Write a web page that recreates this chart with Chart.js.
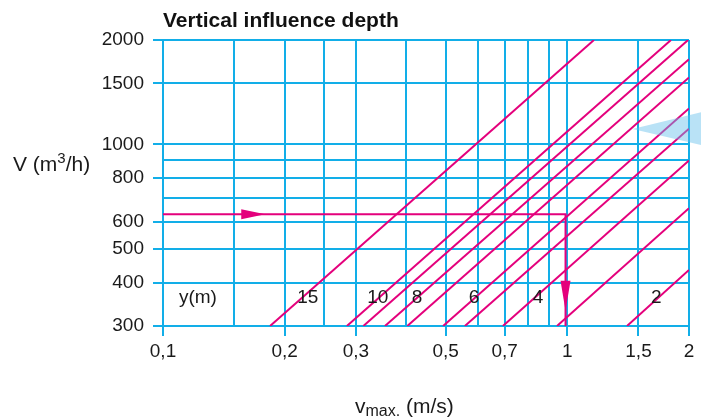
<!DOCTYPE html>
<html>
<head>
<meta charset="utf-8">
<script src="https://cdn.jsdelivr.net/npm/chart.js@4.4.0/dist/chart.umd.min.js"></script>
<style>
  body { margin: 0; background: #fff; }
  #wrap { position: relative; width: 701px; height: 420px; }
  .lbl { position: absolute; font-family: 'Liberation Sans', Arial, sans-serif; font-size: 21px; color: #1a1a1a; white-space: nowrap; line-height: 1; }
  .lbl sup { font-size: 15px; vertical-align: 8px; line-height: 0; }
  .lbl sub { font-size: 16px; vertical-align: -3px; line-height: 0; }
</style>
</head>
<body>
<div id="wrap">
  <canvas id="chart"></canvas>
  <div class="lbl" style="left:13px; top:153px;">V (m<sup>3</sup>/h)</div>
  <div class="lbl" style="left:355px; top:395px;">v<sub>max.</sub> (m/s)</div>
</div>
<script>
// axis ticks
const xTicks = [0.1, 0.15, 0.2, 0.25, 0.3, 0.4, 0.5, 0.6, 0.7, 0.8, 0.9, 1, 1.5, 2];
const xLabelled = [0.1, 0.2, 0.3, 0.5, 0.7, 1, 1.5, 2];
const yTicks = [300, 400, 500, 600, 700, 800, 900, 1000, 1500, 2000];
const yLabelled = [300, 400, 500, 600, 800, 1000, 1500, 2000];

// depth lines y(m), read where they enter and leave the frame
const depths = [15, 10, 9, 8, 7, 6, 5, 4, 3, 2];
const vStart = [0.184, 0.285, 0.313, 0.354, 0.402, 0.493, 0.558, 0.693, 0.943, 1.405]; // at V = 300
const qStart = 300;
const vEnd = [1.164, 1.805, 1.99, 2, 2, 2, 2, 2, 2, 2];
const qEnd = [2000, 2000, 2000, 1760, 1560, 1270, 1110, 900, 655, 435];

// text on the lines
const depthLabels = ['y(m)', '15', '10', '8', '6', '4', '2'];
const depthLabelV = [0.122, 0.228, 0.340, 0.425, 0.588, 0.847, 1.66];
const depthLabelQ = 361;

// worked example: 630 m3/h, y = 6 m -> about 1 m/s
const exampleV = [0.1, 0.99, 0.99];
const exampleQ = [630, 630, 300];
const arrowV = [0.179, 0.99];
const arrowQ = [630, 332];
const arrowDir = ['right', 'down'];

// pale pointer on the right
const wedgeTip = [1.45, 1108];
const wedgeEdgeQ = [1239, 996];

const BLUE = '#12aee8';
const MAGENTA = '#e4007c';
const FONT = "'Liberation Sans', Arial, sans-serif";

Chart.defaults.font.family = FONT;
Chart.defaults.font.size = 19;
Chart.defaults.color = '#1a1a1a';

const datasets = depths.map((d, i) => ({
  label: 'y = ' + d + ' m',
  data: [{ x: vStart[i], y: qStart }, { x: vEnd[i], y: qEnd[i] }],
  borderColor: MAGENTA,
  borderWidth: 2,
  showLine: true,
  pointRadius: 0
}));
datasets.push({
  label: 'example',
  data: exampleV.map((v, i) => ({ x: v, y: exampleQ[i] })),
  borderColor: MAGENTA,
  borderWidth: 2,
  showLine: true,
  pointRadius: 0
});

const overlay = {
  id: 'overlay',
  afterDatasetsDraw(chart) {
    const { ctx, scales: { x, y } } = chart;
    ctx.save();

    // arrowheads
    ctx.fillStyle = MAGENTA;
    arrowV.forEach((v, i) => {
      const px = x.getPixelForValue(v);
      const py = y.getPixelForValue(arrowQ[i]);
      ctx.beginPath();
      if (arrowDir[i] === 'right') {
        ctx.moveTo(px, py);
        ctx.lineTo(px - 24, py - 5);
        ctx.lineTo(px - 24, py + 5);
      } else {
        ctx.moveTo(px, py);
        ctx.lineTo(px - 5, py - 30);
        ctx.lineTo(px + 5, py - 30);
      }
      ctx.closePath();
      ctx.fill();
    });

    // depth labels
    ctx.fillStyle = '#1a1a1a';
    ctx.font = '19px ' + FONT;
    ctx.textAlign = 'center';
    ctx.textBaseline = 'middle';
    depthLabels.forEach((t, i) => {
      ctx.fillText(t, x.getPixelForValue(depthLabelV[i]), y.getPixelForValue(depthLabelQ));
    });

    // pale wedge
    ctx.fillStyle = 'rgba(100, 190, 235, 0.45)';
    ctx.beginPath();
    ctx.moveTo(x.getPixelForValue(wedgeTip[0]), y.getPixelForValue(wedgeTip[1]));
    ctx.lineTo(chart.width, y.getPixelForValue(wedgeEdgeQ[0]));
    ctx.lineTo(chart.width, y.getPixelForValue(wedgeEdgeQ[1]));
    ctx.closePath();
    ctx.fill();

    ctx.restore();
  }
};

const ctx = document.getElementById('chart').getContext('2d');
new Chart(ctx, {
  type: 'scatter',
  data: { datasets },
  options: {
    responsive: true,
    maintainAspectRatio: false,
    animation: false,
    layout: { padding: { left: 0, right: 12, top: 0, bottom: 0 } },
    plugins: {
      legend: { display: false },
      tooltip: { enabled: false },
      title: {
        display: true,
        text: 'Vertical influence depth',
        align: 'start',
        fullSize: false,
        color: '#111',
        font: { family: FONT, size: 21, weight: 'bold' },
        padding: { top: 9, bottom: 5.8 }
      }
    },
    scales: {
      x: {
        type: 'logarithmic',
        min: 0.1,
        max: 2,
        afterBuildTicks: s => { s.ticks = xTicks.map(v => ({ value: v })); },
        afterFit: s => { s.height = 94; },
        ticks: {
          autoSkip: false,
          maxRotation: 0,
          padding: 4,
          callback: v => xLabelled.includes(v) ? String(v).replace('.', ',') : ''
        },
        grid: {
          color: BLUE,
          lineWidth: 2,
          tickLength: 10,
          tickColor: c => (c.tick && xLabelled.includes(c.tick.value)) ? BLUE : 'rgba(0,0,0,0)'
        },
        border: { color: BLUE, width: 2 }
      },
      y: {
        type: 'logarithmic',
        min: 300,
        max: 2000,
        afterBuildTicks: s => { s.ticks = yTicks.map(v => ({ value: v })); },
        afterFit: s => { s.width = 163; },
        ticks: {
          autoSkip: false,
          padding: 9,
          callback: v => yLabelled.includes(v) ? String(v) : ''
        },
        grid: {
          color: BLUE,
          lineWidth: 2,
          tickLength: 10,
          tickColor: c => (c.tick && yLabelled.includes(c.tick.value)) ? BLUE : 'rgba(0,0,0,0)'
        },
        border: { color: BLUE, width: 2 }
      }
    }
  },
  plugins: [overlay]
});
</script>
</body>
</html>
